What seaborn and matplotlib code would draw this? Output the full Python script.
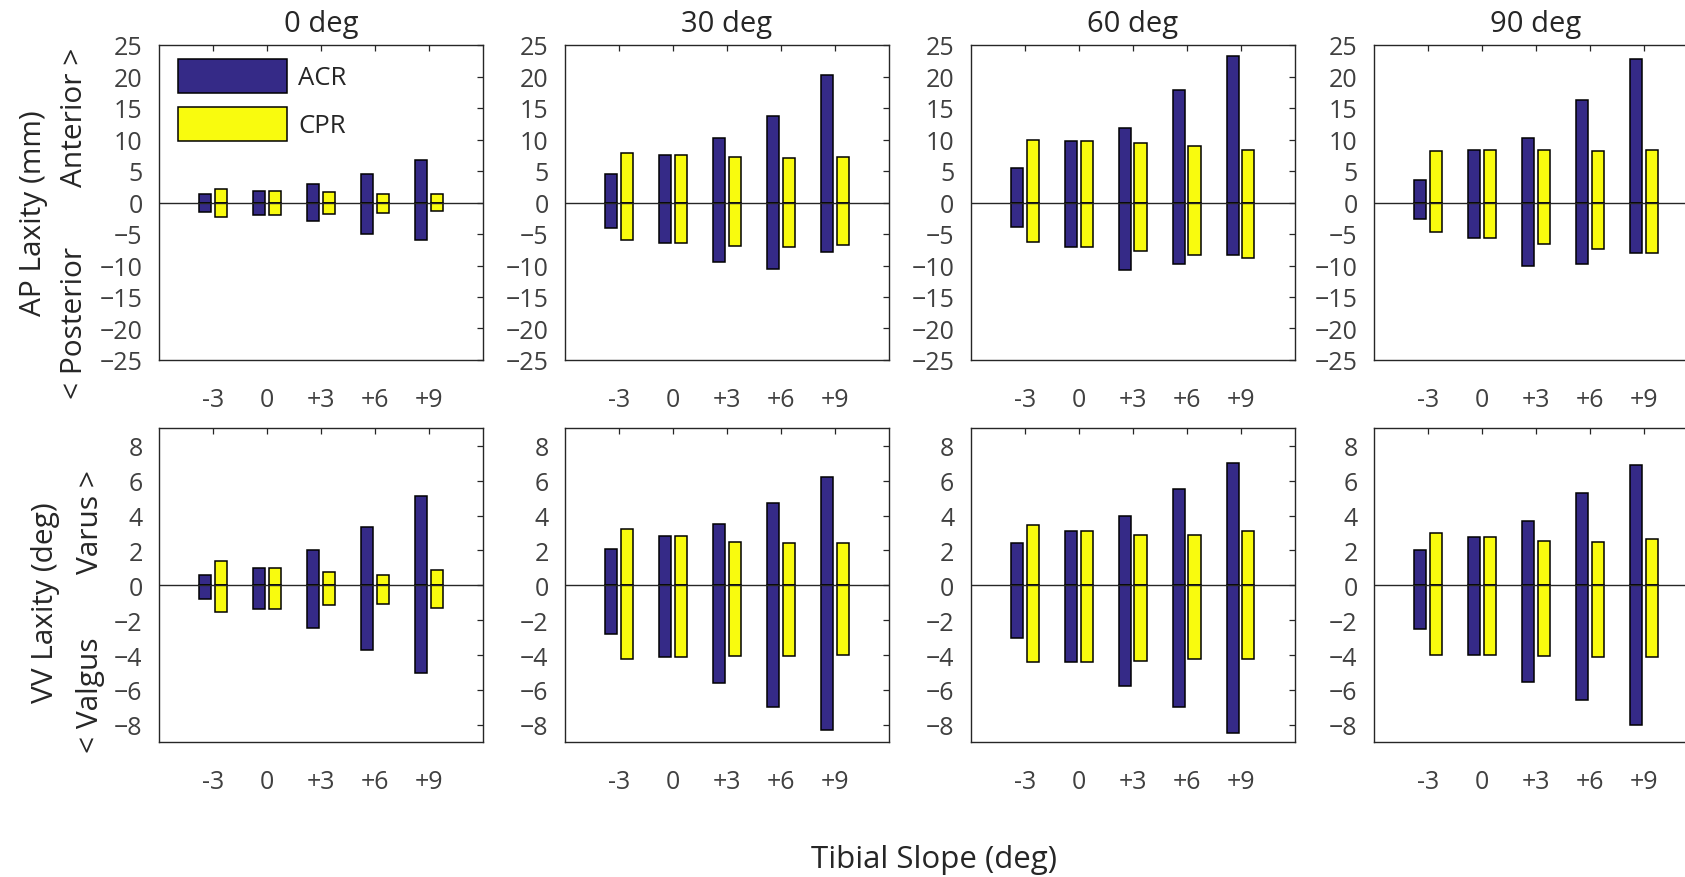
import numpy as np
import pandas as pd
import matplotlib
matplotlib.use("Agg")
import matplotlib.pyplot as plt
import seaborn as sns
from matplotlib.patches import Patch

# ---------------- data ----------------
slopes = ['-3', '0', '+3', '+6', '+9']
flexion = ['0 deg', '30 deg', '60 deg', '90 deg']
groups = ['ACR', 'CPR']

# AP laxity (mm): anterior (positive) and posterior (negative) limits, per flexion angle
ap_acr_ant = [[1.4, 1.9, 2.9, 4.6, 6.8],
              [4.5, 7.6, 10.2, 13.8, 20.3],
              [5.4, 9.7, 11.8, 17.8, 23.2],
              [3.5, 8.4, 10.3, 16.2, 22.8]]
ap_acr_post = [[-1.5, -2.0, -3.0, -5.0, -6.0],
               [-4.1, -6.5, -9.4, -10.5, -7.9],
               [-3.9, -7.1, -10.7, -9.8, -8.4],
               [-2.6, -5.7, -10.0, -9.8, -8.0]]
ap_cpr_ant = [[2.1, 1.9, 1.7, 1.4, 1.4],
              [7.9, 7.6, 7.3, 7.1, 7.2],
              [9.9, 9.7, 9.4, 9.0, 8.4],
              [8.1, 8.4, 8.3, 8.2, 8.3]]
ap_cpr_post = [[-2.3, -2.0, -1.8, -1.6, -1.4],
               [-6.0, -6.5, -6.9, -7.1, -6.8],
               [-6.3, -7.1, -7.7, -8.3, -8.8],
               [-4.7, -5.7, -6.6, -7.4, -8.0]]

# VV laxity (deg): varus (positive) and valgus (negative) limits
vv_acr_var = [[0.6, 1.0, 2.0, 3.35, 5.1],
              [2.1, 2.8, 3.5, 4.7, 6.2],
              [2.4, 3.1, 4.0, 5.5, 7.0],
              [2.0, 2.75, 3.7, 5.3, 6.9]]
vv_acr_val = [[-0.8, -1.35, -2.45, -3.7, -5.0],
              [-2.8, -4.1, -5.6, -7.0, -8.3],
              [-3.0, -4.4, -5.8, -7.0, -8.45],
              [-2.5, -4.0, -5.55, -6.6, -8.0]]
vv_cpr_var = [[1.4, 1.0, 0.75, 0.6, 0.85],
              [3.2, 2.8, 2.5, 2.4, 2.45],
              [3.45, 3.1, 2.9, 2.9, 3.1],
              [3.0, 2.75, 2.55, 2.5, 2.65]]
vv_cpr_val = [[-1.55, -1.35, -1.15, -1.1, -1.3],
              [-4.2, -4.1, -4.05, -4.05, -4.0],
              [-4.4, -4.4, -4.35, -4.25, -4.2],
              [-4.0, -4.0, -4.05, -4.1, -4.1]]

ap_ticks = [-25, -20, -15, -10, -5, 0, 5, 10, 15, 20, 25]
vv_ticks = [-8, -6, -4, -2, 0, 2, 4, 6, 8]

# ---------------- style ----------------
navy = '#352a87'
yellow = '#f9fb0e'
dark = '#262626'
tickc = '#404040'

sns.set_style('white')
plt.rcParams['font.family'] = ['Open Sans', 'DejaVu Sans']

W, H = 1685, 878
fig = plt.figure(figsize=(W / 100, H / 100), dpi=100)

col_left = [159.3, 565.3, 971.0, 1374.3]
ax_w = 323.5
rows = [(46.0, 361.0), (429.3, 743.3)]


def make_df(acr_hi, cpr_hi, acr_lo, cpr_lo):
    rec = []
    for s, a_hi, c_hi, a_lo, c_lo in zip(slopes, acr_hi, cpr_hi, acr_lo, cpr_lo):
        rec.append({'slope': s, 'group': 'ACR', 'hi': a_hi, 'lo': a_lo})
        rec.append({'slope': s, 'group': 'CPR', 'hi': c_hi, 'lo': c_lo})
    return pd.DataFrame(rec)


for r, (top, bot) in enumerate(rows):
    for c in range(4):
        ax = fig.add_axes([col_left[c] / W, (H - bot) / H, ax_w / W, (bot - top) / H])
        if r == 0:
            df = make_df(ap_acr_ant[c], ap_cpr_ant[c], ap_acr_post[c], ap_cpr_post[c])
        else:
            df = make_df(vv_acr_var[c], vv_cpr_var[c], vv_acr_val[c], vv_cpr_val[c])
        for col in ['hi', 'lo']:
            sns.barplot(data=df, x='slope', y=col, hue='group', order=slopes,
                        hue_order=groups, palette=[navy, yellow], saturation=1,
                        width=0.58, gap=0.22, edgecolor='black', linewidth=1.1,
                        errorbar=None, legend=False, ax=ax, zorder=2)
        ax.axhline(0, color=dark, lw=1.0, zorder=3)
        ax.set_xlim(-1, 5)
        if r == 0:
            ax.set_ylim(-25, 25)
            ax.set_yticks(ap_ticks)
        else:
            ax.set_ylim(-9, 9)
            ax.set_yticks(vv_ticks)
        ax.set_xlabel('')
        ax.set_ylabel('')
        ax.tick_params(axis='both', direction='in', top=True, right=True,
                       length=4, width=0.9, color=dark, labelsize=18,
                       labelcolor=tickc)
        ax.tick_params(axis='x', pad=19.5)
        ax.tick_params(axis='y', pad=12)
        for sp in ax.spines.values():
            sp.set_color(dark)
            sp.set_linewidth(1.0)
            sp.set_visible(True)
        if r == 0:
            ax.set_title(flexion[c], fontsize=21, color=dark, pad=10)
        if r == 0 and c == 0:
            handles = [Patch(facecolor=navy, edgecolor='black', linewidth=1.1),
                       Patch(facecolor=yellow, edgecolor='black', linewidth=1.1)]
            ax.legend(handles, groups, loc='upper left',
                      bbox_to_anchor=(19 / 325, 1 - 14 / 315), frameon=False,
                      borderpad=0, borderaxespad=0, fontsize=18.5,
                      handlelength=4.24, handleheight=1.66, labelspacing=0.54,
                      handletextpad=0.43, labelcolor=dark)

# axis labels
lab = dict(rotation=90, ha='center', va='center', fontsize=21.5, color=dark)
fig.text(33 / W, 1 - 213 / H, 'AP Laxity (mm)', **lab)
fig.text(74 / W, 1 - 117 / H, 'Anterior >', **lab)
fig.text(74 / W, 1 - 323 / H, '< Posterior', **lab)
fig.text(45 / W, 1 - 603 / H, 'VV Laxity (deg)', **lab)
fig.text(90 / W, 1 - 522 / H, 'Varus >', **lab)
fig.text(90 / W, 1 - 695 / H, '< Valgus', **lab)
fig.text(934 / W, 1 - 860 / H, 'Tibial Slope (deg)', ha='center', va='center',
         fontsize=22.5, color=dark)

fig.savefig('out.png', dpi=100)
